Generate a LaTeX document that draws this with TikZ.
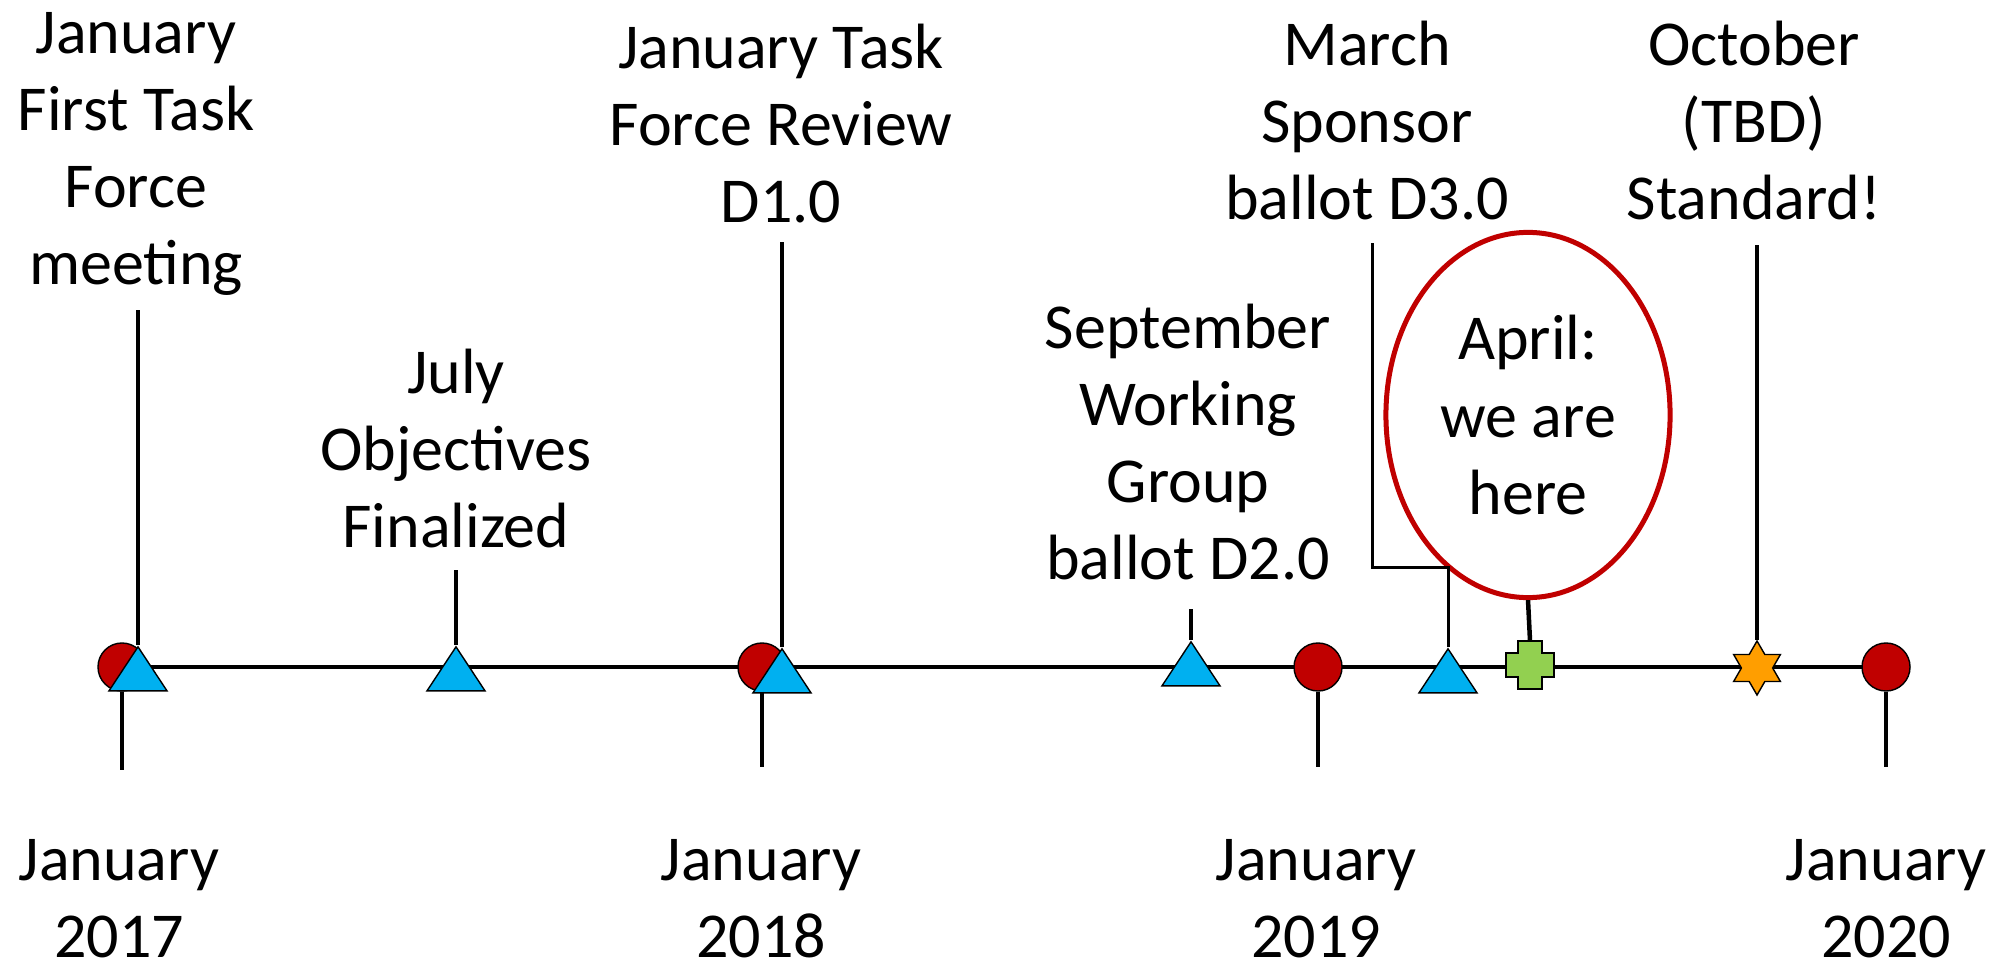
\documentclass[tikz,border=0pt]{standalone}
\usepackage{fontspec}
\setmainfont{Carlito}
\usetikzlibrary{shapes.geometric}
\definecolor{dotred}{HTML}{C00000}
\definecolor{triblue}{HTML}{00B0F0}
\definecolor{crossgreen}{HTML}{92D050}
\definecolor{starorange}{HTML}{FF9E00}
\begin{document}
\begin{tikzpicture}
  [x=0.01cm,y=-0.01cm,
   lbl/.style={align=center,anchor=north,inner sep=0pt,font=\fontsize{18.2}{21.9}\selectfont},
   here/.style={draw=dotred,line width=0.05cm,shape=ellipse,inner sep=0pt,minimum width=2.84cm,minimum height=3.65cm,align=center,font=\fontsize{18.2}{21.9}\selectfont},
   datedot/.style={draw,shape=circle,fill=dotred,inner sep=0pt,minimum size=0.48cm,line width=0.4pt},
   milestone/.style={draw,shape=isosceles triangle,shape border rotate=90,isosceles triangle stretches,fill=triblue,inner sep=0pt,minimum width=0.58cm,minimum height=0.44cm,anchor=apex,line width=0.4pt},
   goal/.style={draw,shape=star,star points=6,star point ratio=1.73,fill=starorange,inner sep=0pt,minimum size=0.54cm,line width=0.4pt},
   stem/.style={line width=0.045cm}]

  \useasboundingbox (0,0) rectangle (1998,958);

  % timeline
  \coordinate (start) at (122,667);
  \coordinate (stop) at (1886,667);
  \draw[stem] (start) -- (stop);

  % year dots
  \node[datedot] (d17) at (start) {};
  \node[datedot] (d18) at (762,667) {};
  \node[datedot] (d19) at (1318,667) {};
  \node[datedot] (d20) at (stop) {};

  % milestones
  \node[milestone] (m1) at (138,645) {};
  \node[milestone] (m2) at (456,645) {};
  \node[milestone] (m3) at (782,647) {};
  \node[milestone] (m4) at (1191,640) {};
  \node[milestone] (m5) at (1448,647) {};
  \node[goal] (m7) at (1757,668) {};
  \draw[fill=crossgreen,line width=0.4pt,shift={(1530,665)}]
    (-12,-24) -- (12,-24) -- (12,-12) -- (24,-12) -- (24,12) -- (12,12) -- (12,24)
    -- (-12,24) -- (-12,12) -- (-24,12) -- (-24,-12) -- (-12,-12) -- cycle;
  \coordinate (m6) at (1530,641);

  % labels above
  \node[lbl] (l1) at (136,12) {January\\First Task\\Force\\meeting};
  \node[lbl] (l2) at (456,348) {July\\Objectives\\Finalized};
  \node[lbl] (l3) at (781,23) {January Task\\Force Review\\D1.0};
  \node[lbl] (l4) at (1188,303) {September\\Working\\Group\\ballot D2.0};
  \node[lbl] (l5) at (1367,20) {March\\Sponsor\\ballot D3.0};
  \node[lbl] (l7) at (1754,20) {October\\(TBD)\\Standard!};
  \node[here] (now) at (1528,415) {April:\\we are\\here};

  % labels below
  \node[lbl] (y17) at (119,839) {January\\2017};
  \node[lbl] (y18) at (761,839) {January\\2018};
  \node[lbl] (y19) at (1316,839) {January\\2019};
  \node[lbl] (y20) at (1886,839) {January\\2020};

  % stems
  \coordinate (m1top) at (138,310);
  \coordinate (m2top) at (456,570);
  \coordinate (m3top) at (782,242);
  \coordinate (m4top) at (1191,609);
  \coordinate (m5bend) at (1372,567);
  \coordinate (m5top) at (1372,243);
  \coordinate (m7top) at (1757,245);
  \draw[stem] (m1.apex) -- (m1top);
  \draw[stem] (m2.apex) -- (m2top);
  \draw[stem] (m3.apex) -- (m3top);
  \draw[stem] (m4.apex) -- (m4top);
  \draw[line width=0.03cm] (m5.apex) |- (m5bend) -- (m5top);
  \draw[stem] (m6) -- (now.south);
  \draw[stem] (m7.north) -- (m7top);

  \coordinate (d17end) at (122,770);
  \coordinate (d18end) at (762,767);
  \coordinate (d19end) at (1318,767);
  \coordinate (d20end) at (1886,767);
  \draw[stem] (d17.south) -- (d17end);
  \draw[stem] (d18.south) -- (d18end);
  \draw[stem] (d19.south) -- (d19end);
  \draw[stem] (d20.south) -- (d20end);
\end{tikzpicture}
\end{document}
